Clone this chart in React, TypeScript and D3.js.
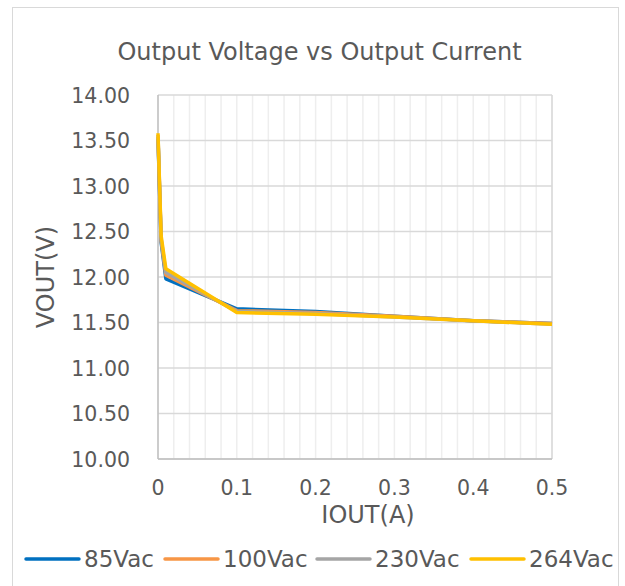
import React from "react";
import * as d3 from "d3";

const currents = [0, 0.004, 0.01, 0.1, 0.2, 0.3, 0.4, 0.5];
const v85 = [13.52, 12.38, 11.98, 11.65, 11.62, 11.57, 11.52, 11.49];
const v100 = [13.54, 12.4, 12.02, 11.63, 11.61, 11.57, 11.52, 11.49];
const v230 = [13.56, 12.42, 12.05, 11.62, 11.6, 11.56, 11.52, 11.48];
const v264 = [13.58, 12.45, 12.09, 11.61, 11.59, 11.56, 11.52, 11.48];
const seriesNames = ["85Vac", "100Vac", "230Vac", "264Vac"];
const seriesColors = ["#0070C0", "#F79646", "#A5A5A5", "#FFC000"];
const yTicks = [10, 10.5, 11, 11.5, 12, 12.5, 13, 13.5, 14];
const xTicks = [0, 0.1, 0.2, 0.3, 0.4, 0.5];
const xMinorGrid = d3.range(0, 26).map((i) => i * 0.02);

const FONT = "'DejaVu Sans', Verdana, sans-serif";
const TEXT = "#595959";

export default function App() {
  const W = 625;
  const H = 586;
  const left = 158;
  const right = 552;
  const top = 95;
  const bottom = 459;
  const x = d3.scaleLinear().domain([0, 0.5]).range([left, right]);
  const y = d3.scaleLinear().domain([10, 14]).range([bottom, top]);
  const line = d3
    .line<[number, number]>()
    .x((d) => x(d[0]))
    .y((d) => y(d[1]));
  const all = [v85, v100, v230, v264];
  const legendX = [26, 165, 317, 471];

  return (
    <svg
      width={W}
      height={H}
      style={{ position: "absolute", left: 0, top: 0 }}
      fontFamily={FONT}
    >
      <rect x={0} y={0} width={W} height={H} fill="#fff" />
      <rect x={12.5} y={7.5} width={606} height={600} fill="#fff" stroke="#d9d9d9" strokeWidth={1} />
      <text x={319.5} y={60} textAnchor="middle" fontSize={24} fill={TEXT}>
        Output Voltage vs Output Current
      </text>
      {xMinorGrid.map((t, i) => (
        <line
          key={"vx" + i}
          x1={x(t)}
          x2={x(t)}
          y1={top}
          y2={bottom}
          stroke="#eeeeee"
          strokeWidth={1.5}
        />
      ))}
      {yTicks.map((t, i) => (
        <line
          key={"gy" + i}
          x1={left}
          x2={right}
          y1={y(t)}
          y2={y(t)}
          stroke="#d9d9d9"
          strokeWidth={1.5}
        />
      ))}
      <line x1={right} x2={right} y1={top} y2={bottom} stroke="#d9d9d9" strokeWidth={1.5} />
      <line x1={left} x2={left} y1={top} y2={bottom} stroke="#bfbfbf" strokeWidth={1.5} />
      <line x1={left} x2={right} y1={bottom} y2={bottom} stroke="#bfbfbf" strokeWidth={1.5} />
      {yTicks.map((t, i) => (
        <text
          key={"ty" + i}
          x={130}
          y={y(t)}
          dy="0.37em"
          textAnchor="end"
          fontSize={20.5}
          fill={TEXT}
        >
          {d3.format(".2f")(t)}
        </text>
      ))}
      {xTicks.map((t, i) => (
        <text
          key={"tx" + i}
          x={x(t)}
          y={495}
          textAnchor="middle"
          fontSize={20.5}
          fill={TEXT}
        >
          {String(t)}
        </text>
      ))}
      <text
        transform={`translate(54,277) rotate(-90)`}
        textAnchor="middle"
        fontSize={24}
        fill={TEXT}
      >
        VOUT(V)
      </text>
      <text x={368} y={523} textAnchor="middle" fontSize={24} fill={TEXT}>
        IOUT(A)
      </text>
      {all.map((vals, si) => (
        <path
          key={"s" + si}
          d={line(currents.map((c, i) => [c, vals[i]] as [number, number])) || ""}
          fill="none"
          stroke={seriesColors[si]}
          strokeWidth={3.5}
          strokeLinejoin="round"
        />
      ))}
      {seriesNames.map((n, i) => (
        <g key={"lg" + i}>
          <line
            x1={legendX[i]}
            x2={legendX[i] + 53}
            y1={559}
            y2={559}
            stroke={seriesColors[i]}
            strokeWidth={3.5}
            strokeLinecap="round"
          />
          <text x={legendX[i] + 58} y={567} fontSize={23} fill={TEXT}>
            {n}
          </text>
        </g>
      ))}
    </svg>
  );
}
